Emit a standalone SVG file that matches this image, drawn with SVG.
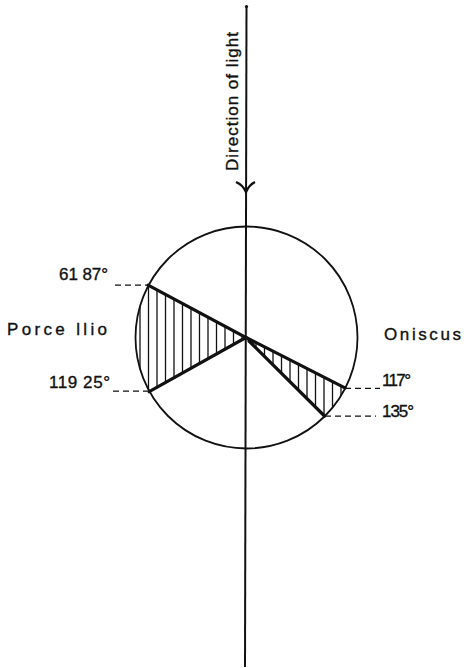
<svg xmlns="http://www.w3.org/2000/svg" width="464" height="668" viewBox="0 0 464 668">
<style>
.lbl{font-family:"Liberation Sans",Arial,sans-serif;font-size:17px;fill:#111;stroke:#111;stroke-width:0.35}
.dash{stroke:#111;stroke-width:1.3;stroke-dasharray:6 4;fill:none}
.thick{stroke:#111;stroke-width:3.2;fill:none;stroke-linecap:round}
.hatch{stroke:#111;stroke-width:1.3}
</style>
<defs>
<clipPath id="cl"><path d="M246,337.5 L148.1,285.2 A111,111 0 0 0 149.2,391.7 Z"/></clipPath>
<clipPath id="cr"><path d="M246,337.5 L344.9,387.9 A111,111 0 0 1 324.5,416 Z"/></clipPath>
</defs>
<rect width="464" height="668" fill="#fff"/>
<g id="axis">
<line x1="246.5" y1="6" x2="245" y2="667" stroke="#111" stroke-width="2"/>
<circle cx="246.5" cy="6.5" r="1.6" fill="#111"/>
<path d="M236,182 Q243,185 246,192 Q249,185 255,182" fill="none" stroke="#111" stroke-width="2.4"/>
<text class="lbl" transform="translate(238,171) rotate(-90)" textLength="139" lengthAdjust="spacing" font-size="15" stroke-width="0.2">Direction of light</text>
</g>
<g id="circle">
<circle cx="246.5" cy="337.5" r="111" fill="none" stroke="#111" stroke-width="1.8"/>
</g>
<g id="porcellio">
<g clip-path="url(#cl)">
<path class="hatch" d="M140,270V400M148.5,270V400M157,270V400M165.5,270V400M174,270V400M182.5,270V400M191,270V400M199.5,270V400M208,270V400M216.5,270V400M225,270V400M233.5,270V400M242,270V400"/>
</g>
<path class="thick" d="M148.1,285.2 L246,337.5 L149.2,391.7"/>
<path class="dash" d="M115,285.2H148"/>
<path class="dash" d="M113,391.2H149"/>
<text class="lbl" x="59" y="280" font-size="18" textLength="49" lengthAdjust="spacing">61 87°</text>
<text class="lbl" x="49" y="388" font-size="18" textLength="61" lengthAdjust="spacing">119 25°</text>
<text class="lbl" x="7" y="335" font-size="16.5" textLength="100" lengthAdjust="spacing">Porce llio</text>
</g>
<g id="oniscus">
<g clip-path="url(#cr)">
<path class="hatch" d="M256,330V420M264.5,330V420M273,330V420M281.5,330V420M290,330V420M298.5,330V420M307,330V420M315.5,330V420M324,330V420M332.5,330V420M341,330V420"/>
</g>
<path class="thick" d="M246,337.5 L344.9,387.9 M249,341 L324.5,416"/>
<path class="dash" d="M345,388.3H380"/>
<path class="dash" d="M325,416.2H376"/>
<text class="lbl" x="382" y="386" font-size="17.5" textLength="29" lengthAdjust="spacing">117°</text>
<text class="lbl" x="382" y="417" font-size="17.5" textLength="32" lengthAdjust="spacing">135°</text>
<text class="lbl" x="384" y="340" letter-spacing="2.6" font-size="17">Oniscus</text>
</g>
</svg>
